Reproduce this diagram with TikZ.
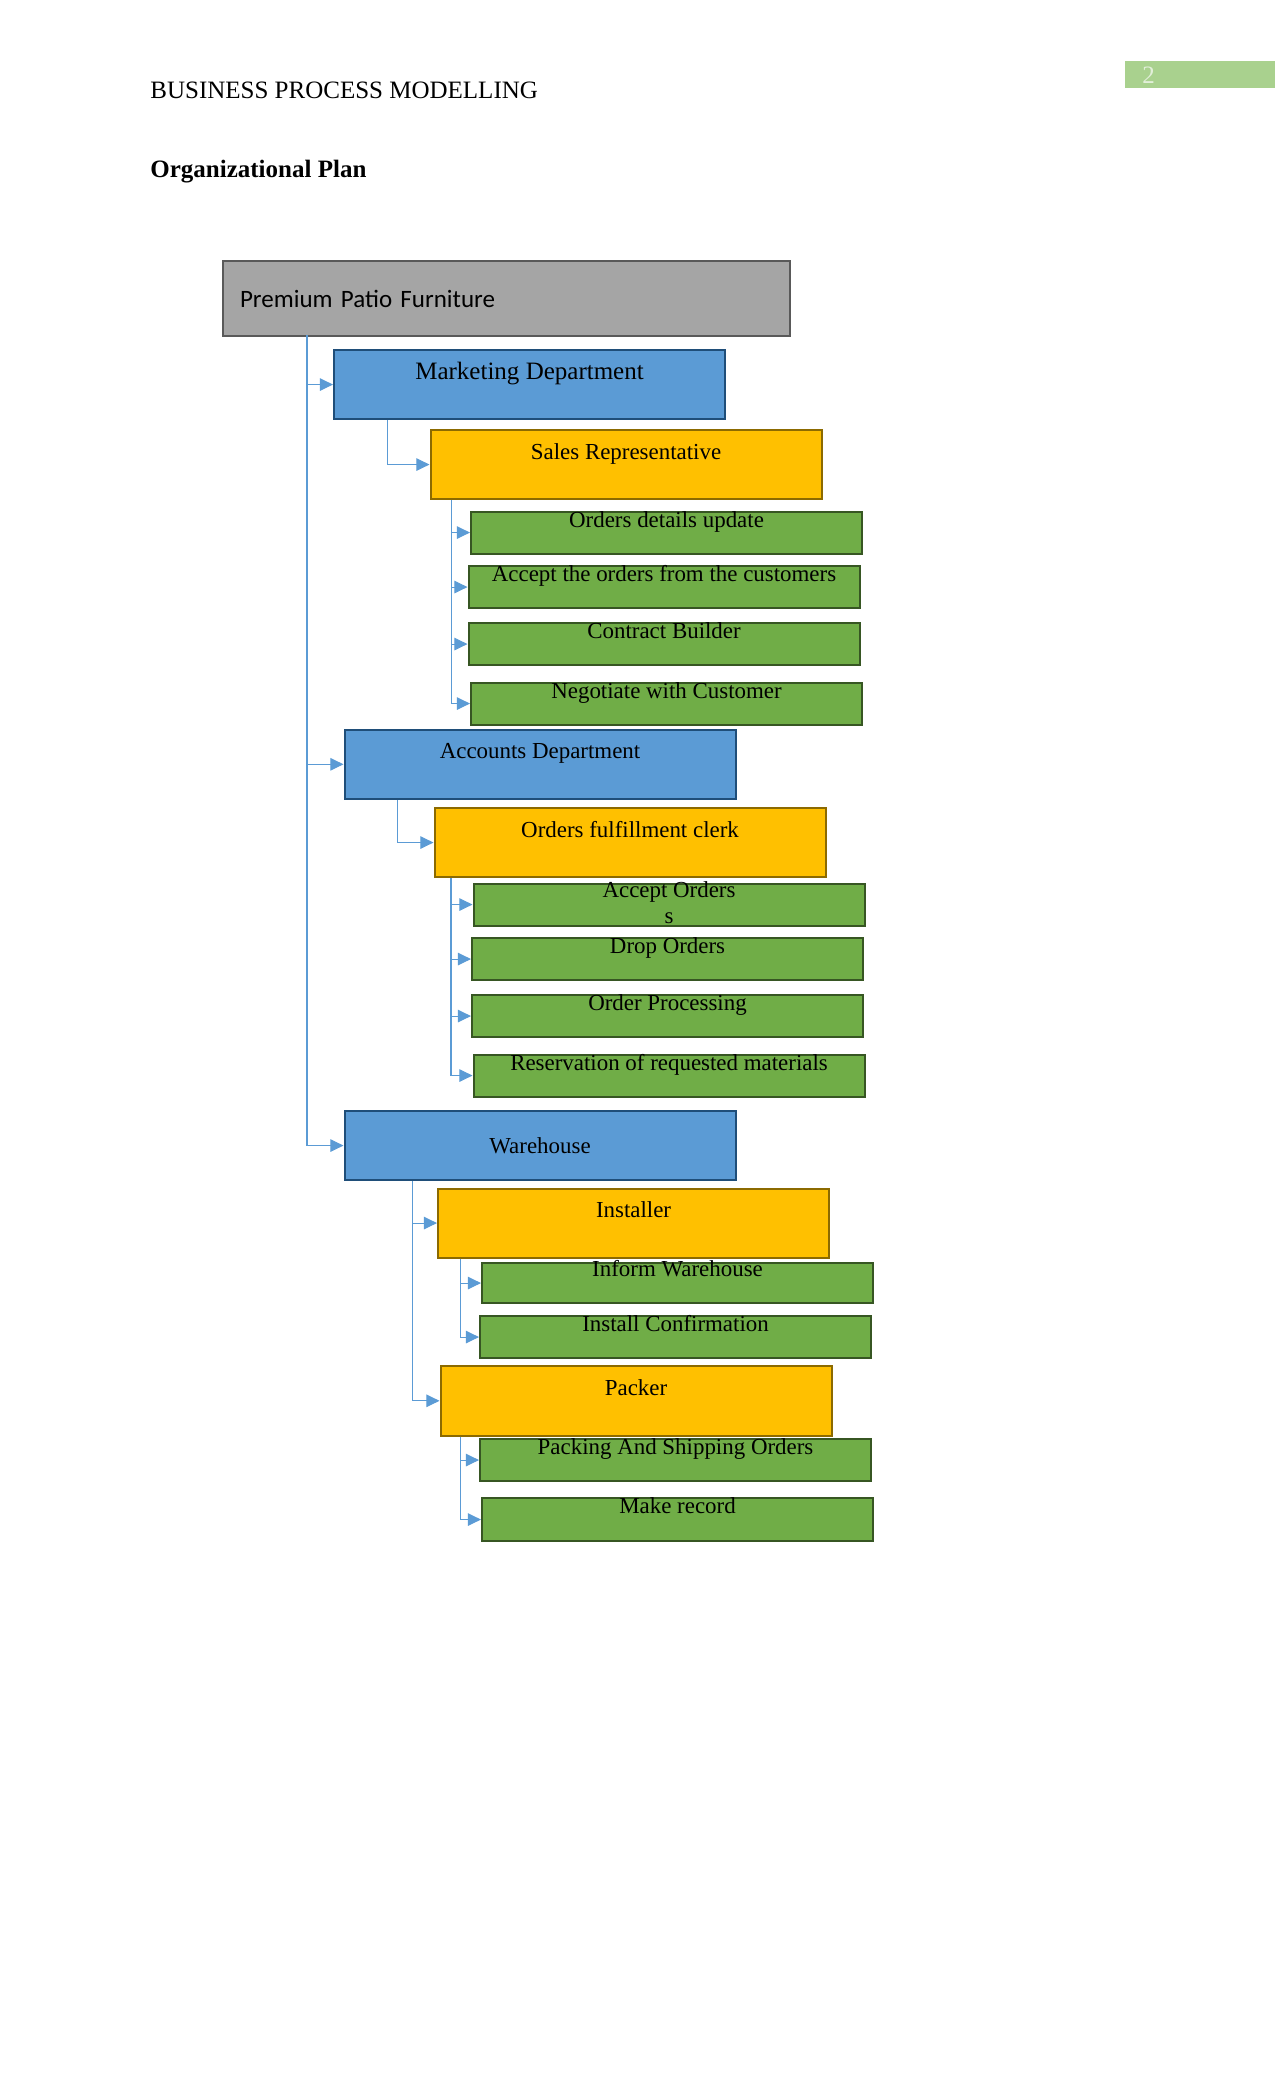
\documentclass[tikz,border=0pt]{standalone}
\usepackage{fontspec}
\setmainfont{Liberation Serif}
\newfontfamily\calibrifont{Carlito}
\usetikzlibrary{arrows.meta}
\definecolor{topgray}{HTML}{A5A5A5}
\definecolor{topedge}{HTML}{595959}
\definecolor{deptblue}{HTML}{5B9BD5}
\definecolor{deptedge}{HTML}{1F4E79}
\definecolor{rolegold}{HTML}{FFC000}
\definecolor{roleedge}{HTML}{8C6A00}
\definecolor{taskgreen}{HTML}{70AD47}
\definecolor{taskedge}{HTML}{375623}
\definecolor{linkblue}{HTML}{5B9BD5}
\definecolor{pagegreen}{HTML}{A9D18E}
\definecolor{pagetext}{HTML}{E2EFD9}

\begin{document}
\begin{tikzpicture}[x=0.48pt, y=-0.48pt, every node/.style={font=\fontsize{11}{12.5}\selectfont, inner sep=0pt}, >={Triangle[length=6.3pt, width=6pt]},
	conn/.style={draw=linkblue, line width=0.5pt, ->},
	chart/.style={draw, line width=1pt, minimum width=187.68pt, align=center, anchor=north west},
	topbox/.style={chart, fill=topgray, draw=topedge, font=\calibrifont\fontsize{12}{13}\selectfont, minimum width=272.16pt, minimum height=36pt, inner xsep=8.16pt, text width=255.84pt, align=left, text height=22.4pt, text depth=13.6pt},
	dept/.style={chart, fill=deptblue, draw=deptedge, minimum height=33.12pt, text height=13.92pt, text depth=19.2pt},
	role/.style={chart, fill=rolegold, draw=roleedge, minimum height=33.12pt, text height=13.92pt, text depth=19.2pt},
	task/.style={chart, fill=taskgreen, draw=taskedge, minimum height=20.16pt, text height=7.44pt, text depth=12.72pt}]
	\useasboundingbox (0,0) rectangle (1275,2100);
	\node[anchor=base west, font=\fontsize{12}{13}\selectfont] (header) at (150,98) {BUSINESS PROCESS MODELLING};
	\node[anchor=north west, fill=pagegreen, text=pagetext, font=\fontsize{12}{13}\selectfont, minimum width=72pt, minimum height=12.96pt, inner xsep=8.16pt, text width=55.68pt, text height=10.7pt, text depth=2.26pt] (pageno) at (1125,61) {2};
	\node[anchor=base west, font=\bfseries\fontsize{12}{13}\selectfont] (title) at (150,177) {Organizational Plan};

	\node[topbox] (premium) at (222,260) {Premium Patio Furniture};

	\node[dept, font=\fontsize{12}{13}\selectfont] (mkt) at (333,349) {Marketing Department};
	\node[role] (sales) at (429.5,429) {Sales Representative};
	\node[task] (odu) at (470,510.5) {Orders details update};
	\node[task] (aoc) at (467.5,565) {Accept the orders from the customers};
	\node[task] (cbd) at (467.5,622) {Contract Builder};
	\node[task] (neg) at (470,681.5) {Negotiate with Customer};

	\node[dept, minimum height=33.36pt, text depth=19.44pt] (acct) at (343.5,728.5) {Accounts Department};
	\node[role] (ofc) at (433.5,807) {Orders fulfillment clerk};
	\node[task, text height=19.34pt, text depth=0.82pt] (aor) at (472.5,882.5) {Accept Orders\\s};
	\node[task] (dro) at (471,937) {Drop Orders};
	\node[task] (opr) at (471,994) {Order Processing};
	\node[task] (rrm) at (472.5,1053.5) {Reservation of requested materials};

	\node[dept, text height=20.16pt, text depth=12.96pt] (wh) at (343.5,1110) {Warehouse};
	\node[role] (inst) at (437,1187.5) {Installer};
	\node[task, minimum height=19.2pt, text height=6.5pt, text depth=12.7pt] (inw) at (481,1262) {Inform Warehouse};
	\node[task] (icf) at (479,1315) {Install Confirmation};
	\node[role, minimum height=33.36pt, text depth=19.44pt] (pack) at (439.5,1365) {Packer};
	\node[task] (pso) at (479,1438) {Packing And Shipping Orders};
	\node[task, minimum height=20.64pt, text depth=13.2pt] (mkr) at (481,1497) {Make record};

	\coordinate (trunk) at (307,335);
	\foreach \d in {mkt,acct,wh}
		\draw[conn] (trunk) |- (\d.west);
	\draw[conn] ([xshift=26.16pt]mkt.south west) |- (sales.west);
	\draw[conn] ([xshift=25.7pt]acct.south west) |- (ofc.west);
	\draw[conn] ([xshift=32.9pt]wh.south west) |- (inst.west);
	\draw[conn] ([xshift=32.9pt]wh.south west) |- (pack.west);
	\foreach \t in {odu,aoc,cbd,neg}
		\draw[conn] ([xshift=10.5pt]sales.south west) |- (\t.west);
	\foreach \t in {aor,dro,opr,rrm}
		\draw[conn] ([xshift=8.4pt]ofc.south west) |- (\t.west);
	\foreach \t in {inw,icf}
		\draw[conn] ([xshift=11.3pt]inst.south west) |- (\t.west);
	\foreach \t in {pso,mkr}
		\draw[conn] ([xshift=10.2pt]pack.south west) |- (\t.west);
\end{tikzpicture}
\end{document}
